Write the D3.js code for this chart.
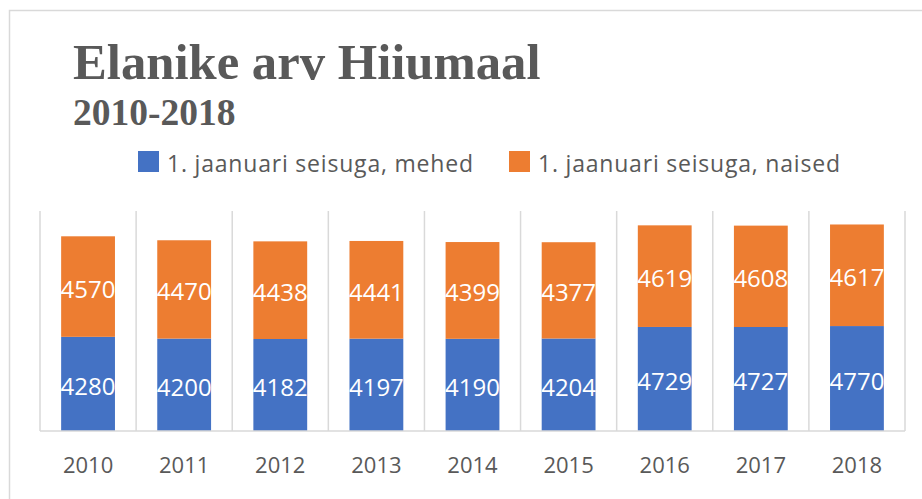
<!DOCTYPE html>
<html>
<head>
<meta charset="utf-8">
<script src="https://cdn.jsdelivr.net/npm/d3@7"></script>
<style>
  html, body { margin: 0; padding: 0; background: #ffffff; }
  svg { display: block; }
</style>
</head>
<body>
<div id="chart"></div>
<script>
// Data
var years = ["2010", "2011", "2012", "2013", "2014", "2015", "2016", "2017", "2018"];
var mehed = [4280, 4200, 4182, 4197, 4190, 4204, 4729, 4727, 4770];
var naised = [4570, 4470, 4438, 4441, 4399, 4377, 4619, 4608, 4617];
var seriesNames = ["1. jaanuari seisuga, mehed", "1. jaanuari seisuga, naised"];
var colors = ["#4472C4", "#ED7D31"];

function init() {
    var w = 922;
    var h = 499;

    var svg = d3.select("#chart")
        .append("svg")
        .attr("width", w)
        .attr("height", h);

    // chart frame
    svg.append("rect")
        .attr("x", 9.5)
        .attr("y", 10.5)
        .attr("width", 940)
        .attr("height", 520)
        .attr("fill", "#fff")
        .attr("stroke", "#d9d9d9")
        .attr("stroke-width", 1.5);

    // titles
    svg.append("text")
        .attr("x", 73)
        .attr("y", 79)
        .attr("font-family", "'Liberation Serif', 'Times New Roman', serif")
        .attr("font-weight", "bold")
        .attr("font-size", 50.7)
        .attr("fill", "#595959")
        .text("Elanike arv Hiiumaal");

    svg.append("text")
        .attr("x", 73)
        .attr("y", 125)
        .attr("font-family", "'Liberation Serif', 'Times New Roman', serif")
        .attr("font-weight", "bold")
        .attr("font-size", 37.5)
        .attr("fill", "#595959")
        .text("2010-2018");

    // legend
    var legendX = [138, 509];
    var legendW = [306, 302];
    seriesNames.forEach(function(name, i) {
        svg.append("rect")
            .attr("x", legendX[i])
            .attr("y", 151)
            .attr("width", 21)
            .attr("height", 21)
            .attr("fill", colors[i]);
        svg.append("text")
            .attr("x", legendX[i] + 29)
            .attr("y", 172)
            .attr("font-family", "'Open Sans', sans-serif")
            .attr("font-size", 23)
            .attr("fill", "#595959")
            .attr("textLength", legendW[i])
            .attr("lengthAdjust", "spacing")
            .text(name);
    });

    barChart(svg);
}

function barChart(svg) {
    var left = 40, right = 905, top = 211, bottom = 431;

    var xScale = d3.scaleBand()
        .domain(years)
        .range([left, right])
        .padding(0);

    var yScale = d3.scaleLinear()
        .domain([0, 10000])
        .range([bottom, top]);

    var barW = xScale.bandwidth() * 0.56;

    // vertical category separators
    var bounds = years.map(function(d) { return xScale(d); }).concat([right]);
    svg.selectAll("line.sep")
        .data(bounds)
        .enter()
        .append("line")
        .attr("class", "sep")
        .attr("x1", function(d) { return d; })
        .attr("x2", function(d) { return d; })
        .attr("y1", top)
        .attr("y2", bottom)
        .attr("stroke", "#d9d9d9")
        .attr("stroke-width", 1.5);

    var stackData = years.map(function(y, i) {
        return { year: y, mehed: mehed[i], naised: naised[i] };
    });
    var stack = d3.stack().keys(["mehed", "naised"]);
    var layers = stack(stackData);

    var groups = svg.selectAll("g.layer")
        .data(layers)
        .enter()
        .append("g")
        .attr("class", "layer")
        .attr("fill", function(d, i) { return colors[i]; });

    groups.selectAll("rect")
        .data(function(d) { return d; })
        .enter()
        .append("rect")
        .attr("x", function(d) { return xScale(d.data.year) + (xScale.bandwidth() - barW) / 2; })
        .attr("y", function(d) { return yScale(d[1]); })
        .attr("width", barW)
        .attr("height", function(d) { return yScale(d[0]) - yScale(d[1]); });

    // value labels
    layers.forEach(function(layer) {
        svg.selectAll(null)
            .data(layer)
            .enter()
            .append("text")
            .attr("x", function(d) { return xScale(d.data.year) + xScale.bandwidth() / 2; })
            .attr("y", function(d) { return (yScale(d[0]) + yScale(d[1])) / 2 + 11; })
            .attr("text-anchor", "middle")
            .attr("font-family", "'Open Sans', sans-serif")
            .attr("font-size", 24)
            .attr("fill", "#ffffff")
            .text(function(d) { return d[1] - d[0]; });
    });

    // baseline
    svg.append("line")
        .attr("x1", left)
        .attr("x2", right)
        .attr("y1", bottom)
        .attr("y2", bottom)
        .attr("stroke", "#d9d9d9")
        .attr("stroke-width", 1.5);

    // x axis labels
    var xAxis = svg.append("g")
        .attr("transform", "translate(0," + bottom + ")")
        .call(d3.axisBottom(xScale).tickSize(0));
    xAxis.select(".domain").remove();
    xAxis.selectAll("text")
        .attr("y", 42)
        .attr("dy", 0)
        .attr("font-family", "'Open Sans', sans-serif")
        .attr("font-size", 22)
        .attr("fill", "#595959");
}

window.onload = init;
</script>
</body>
</html>
